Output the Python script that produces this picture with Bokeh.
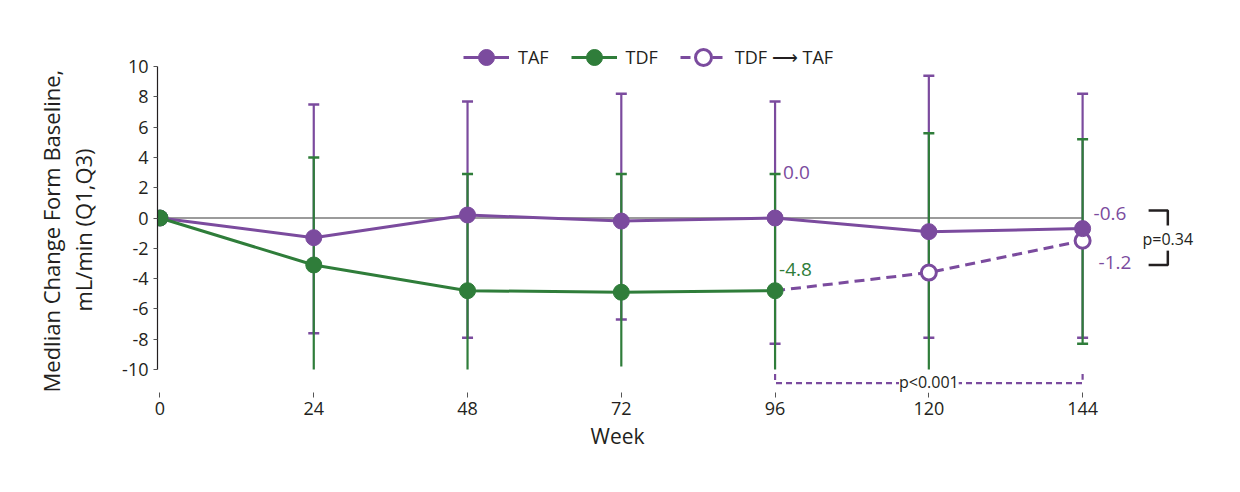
from bokeh.plotting import figure
from bokeh.models import Label, Legend, LegendItem, FixedTicker, Title
from bokeh.embed import file_html
from bokeh.resources import INLINE

# ---------------- data ----------------
weeks = [0, 24, 48, 72, 96, 120, 144]
taf_median = [0.0, -1.3, 0.2, -0.2, 0.0, -0.9, -0.7]
taf_q3 = [None, 7.5, 7.7, 8.2, 7.7, 9.4, 8.2]
taf_q1 = [None, -7.6, -7.9, -6.7, -8.3, -7.9, -7.9]

tdf_weeks = [0, 24, 48, 72, 96]
tdf_median = [0.0, -3.1, -4.8, -4.9, -4.8]
tdf_q3 = [None, 4.0, 2.9, 2.9, 2.9]
tdf_q1 = [None, -10.0, -10.0, -9.8, -10.0]

switch_weeks = [96, 120, 144]
switch_median = [-4.8, -3.6, -1.5]
switch_q3 = [None, 5.6, 5.2]
switch_q1 = [None, -10.0, -8.3]

series_names = ["TAF", "TDF", "TDF \u27f6 TAF"]
value_labels = ["0.0", "-4.8", "-0.6", "-1.2"]
p_switch = "p<0.001"
p_end = "p=0.34"
x_title = "Week"
y_title = ["Medlian Change Form Baseline,", "mL/min (Q1,Q3)"]
y_ticks = [-10, -8, -6, -4, -2, 0, 2, 4, 6, 8, 10]
y_tick_labels = {t: str(t) for t in y_ticks}

# ---------------- style ----------------
PURPLE = "#7b4b9e"
GREEN = "#2f7d3a"
TXT = "#231f20"
FONT = "Open Sans"
AXIS_FLOOR = -10

W, H = 1224, 476
p = figure(width=W, height=H, output_backend="svg", toolbar_location=None,
           x_range=(-0.39, 162.4), y_range=(-11.52, 11.72),
           min_border_left=157, min_border_right=24, min_border_top=40,
           min_border_bottom=84)
p.outline_line_color = None
p.xgrid.grid_line_color = None
p.ygrid.grid_line_color = None
p.background_fill_color = "white"
p.border_fill_color = "white"

# axes
xa = p.xaxis[0]
xa.ticker = FixedTicker(ticks=weeks)
xa.axis_line_color = None
xa.major_tick_line_color = "#555555"
xa.major_tick_in = 0
xa.major_tick_out = 5
xa.minor_tick_line_color = None
xa.major_label_text_font = FONT
xa.major_label_text_font_size = "18px"
xa.major_label_text_color = TXT
xa.major_label_standoff = 4

ya = p.yaxis[0]
ya.ticker = FixedTicker(ticks=y_ticks)
ya.major_label_overrides = y_tick_labels
ya.bounds = (-10, 10)
ya.axis_line_color = TXT
ya.axis_line_width = 1.2
ya.major_tick_line_color = "#555555"
ya.major_tick_in = 0
ya.major_tick_out = 4
ya.minor_tick_line_color = None
ya.major_label_text_font = FONT
ya.major_label_text_font_size = "18px"
ya.major_label_text_color = TXT
ya.major_label_standoff = 5
# blank spacer label to push the side titles away from the tick labels
ya.axis_label = " "
ya.axis_label_text_font_size = "1px"
ya.axis_label_standoff = 18

# axis titles as side titles (offset along the side)
title_kw = dict(text_font=FONT, text_font_size="22px", text_color=TXT,
                text_font_style="normal", align="left")
p.add_layout(Title(text=x_title, offset=433, standoff=4, text_font=FONT,
                   text_font_size="21px", text_color=TXT, text_font_style="normal",
                   align="left"), "below")
p.add_layout(Title(text=y_title[1], offset=81, standoff=0, **title_kw), "left")
p.add_layout(Title(text=y_title[0], offset=0, standoff=0, **title_kw), "left")

# zero reference line
p.line(x=[weeks[0], weeks[-1]], y=[0, 0], line_color="#7a7a7a", line_width=1.5)


def error_bars(xs, lo, hi, color):
    sx, lo_v, hi_v = [], [], []
    for x, l, h in zip(xs, lo, hi):
        if l is None or h is None:
            continue
        sx.append(x); lo_v.append(l); hi_v.append(h)
    p.segment(x0=sx, y0=lo_v, x1=sx, y1=hi_v, line_color=color, line_width=2.2)
    p.scatter(x=sx, y=hi_v, marker="dash", size=11, line_color=color, line_width=2.5)
    cap_x = [x for x, l in zip(sx, lo_v) if l > AXIS_FLOOR + 0.5]
    cap_y = [l for l in lo_v if l > AXIS_FLOOR + 0.5]
    p.scatter(x=cap_x, y=cap_y, marker="dash", size=11, line_color=color, line_width=2.5)


error_bars(weeks, taf_q1, taf_q3, PURPLE)
error_bars(tdf_weeks, tdf_q1, tdf_q3, GREEN)
error_bars(switch_weeks, switch_q1, switch_q3, GREEN)

# lines
taf_line = p.line(weeks, taf_median, line_color=PURPLE, line_width=3)
tdf_line = p.line(tdf_weeks, tdf_median, line_color=GREEN, line_width=3)
sw_line = p.line(switch_weeks, switch_median, line_color=PURPLE, line_width=3,
                 line_dash="10 6")

# markers
sw_pts = p.scatter(switch_weeks[1:], switch_median[1:], marker="circle", size=15,
                   fill_color="white", line_color=PURPLE, line_width=3)
taf_pts = p.scatter(weeks, taf_median, marker="circle", size=16,
                    fill_color=PURPLE, line_color=PURPLE)
tdf_pts = p.scatter(tdf_weeks, tdf_median, marker="circle", size=16,
                    fill_color=GREEN, line_color=GREEN)

# value labels
lab_kw = dict(text_font=FONT, text_font_size="19px", text_baseline="middle")
p.add_layout(Label(x=weeks[4], y=taf_median[4], text=value_labels[0], x_offset=8,
                   y_offset=46, text_color=PURPLE, **lab_kw))
p.add_layout(Label(x=tdf_weeks[4], y=tdf_median[4], text=value_labels[1], x_offset=4,
                   y_offset=21, text_color=GREEN, **lab_kw))
p.add_layout(Label(x=weeks[6], y=taf_median[6], text=value_labels[2], x_offset=11,
                   y_offset=15, text_color=PURPLE, **lab_kw))
p.add_layout(Label(x=switch_weeks[2], y=switch_median[2], text=value_labels[3], x_offset=16,
                   y_offset=-22, text_color=PURPLE, **lab_kw))

# p<0.001 bracket (week 96 -> 144)
yb = -10.9
p.line(x=[switch_weeks[0], switch_weeks[0], switch_weeks[2], switch_weeks[2]],
       y=[-10.3, yb, yb, -10.3], line_color=PURPLE, line_width=2.2, line_dash="6 4")
p.add_layout(Label(x=switch_weeks[1], y=yb, text=p_switch, text_align="center",
                   text_baseline="middle", text_font=FONT, text_font_size="16px",
                   text_color=TXT, background_fill_color="white",
                   x_offset=0, y_offset=1))

# p=0.34 bracket at right
bx0, bx1 = 154.3, 157.3
p.line(x=[bx0, bx1, bx1], y=[0.5, 0.5, -0.5], line_color=TXT, line_width=2.5)
p.line(x=[bx0, bx1, bx1], y=[-3.1, -3.1, -2.15], line_color=TXT, line_width=2.5)
p.add_layout(Label(x=bx1, y=-1.4, text=p_end, text_align="center",
                   text_baseline="middle", text_font=FONT, text_font_size="16px",
                   text_color=TXT, background_fill_color="white"))

# legend
legend = Legend(items=[
    LegendItem(label=series_names[0], renderers=[taf_line, taf_pts]),
    LegendItem(label=series_names[1], renderers=[tdf_line, tdf_pts]),
    LegendItem(label=series_names[2], renderers=[sw_line, sw_pts]),
], orientation="horizontal", location=(306, 315), glyph_width=46, glyph_height=40,
    label_standoff=9, spacing=22, padding=0, margin=0,
    label_text_font=FONT, label_text_font_size="18px", label_text_color=TXT,
    border_line_color=None, background_fill_alpha=0)
p.add_layout(legend)

open("out.html", "w").write(file_html(p, INLINE))
